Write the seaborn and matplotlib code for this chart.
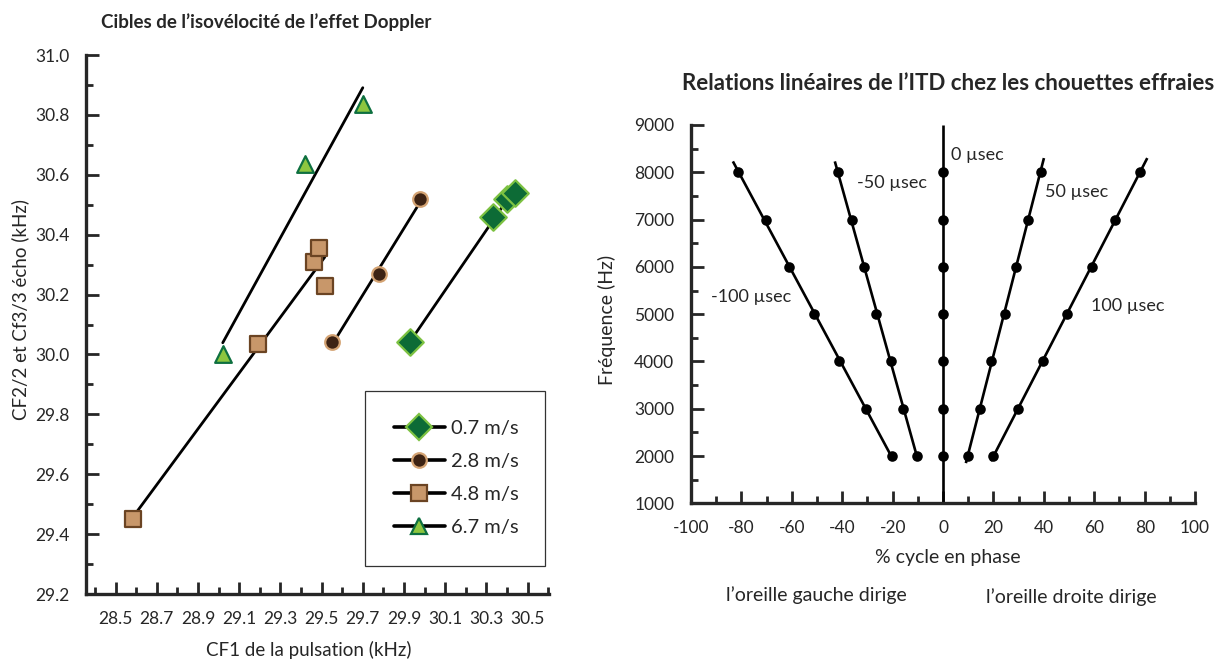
import numpy as np
import matplotlib
matplotlib.use("Agg")
import matplotlib.pyplot as plt
from matplotlib.lines import Line2D
from matplotlib.ticker import MultipleLocator, FormatStrFormatter
import seaborn as sns

# ---- Doppler isovelocity targets: CF1 of the pulse vs CF2/2 & CF3/3 of the echo (kHz)
speed_labels = ["0.7 m/s", "2.8 m/s", "4.8 m/s", "6.7 m/s"]
cf1_07 = [29.93, 30.33, 30.40, 30.44]
echo_07 = [30.04, 30.46, 30.52, 30.54]
cf1_28 = [29.55, 29.78, 29.98]
echo_28 = [30.04, 30.27, 30.52]
cf1_48 = [28.585, 29.19, 29.465, 29.485, 29.515]
echo_48 = [29.45, 30.035, 30.31, 30.355, 30.23]
cf1_67 = [29.02, 29.42, 29.70]
echo_67 = [30.00, 30.635, 30.835]

# ---- Barn owl ITD: % cycle in phase vs frequency (Hz)
frequencies = [2000, 3000, 4000, 5000, 6000, 7000, 8000]
itd_labels = ["-100 µsec", "-50 µsec", "0 µsec", "50 µsec", "100 µsec"]
phase_m100 = [-20.3, -30.5, -41.2, -51.2, -61.0, -70.4, -81.2]
phase_m50 = [-10.2, -15.8, -20.7, -26.6, -31.3, -36.2, -41.8]
phase_0 = [0, 0, 0, 0, 0, 0, 0]
phase_50 = [9.7, 14.7, 19.2, 24.5, 28.8, 33.5, 38.8]
phase_100 = [19.8, 29.8, 39.5, 49.1, 59.1, 68.1, 78.1]
# frequency span over which each fitted line is drawn
span_m100 = [2000, 8230]
span_m50 = [2000, 8230]
span_0 = [1000, 9000]
span_50 = [1850, 8300]
span_100 = [1890, 8300]
# label anchor (phase %, Hz) for each ITD line
label_pos_m100 = (-92, 5360)
label_pos_m50 = (-34, 7770)
label_pos_0 = (3, 8370)
label_pos_50 = (40.5, 7580)
label_pos_100 = (58.5, 5170)

sns.set_style("ticks")
plt.rcParams["font.family"] = ["Lato", "DejaVu Sans"]
plt.rcParams["axes.linewidth"] = 2.4
plt.rcParams["axes.unicode_minus"] = False

fig = plt.figure(figsize=(12.27, 6.62), dpi=100)

# ================= left panel =================
ax1 = fig.add_axes([0.0701, 0.1027, 0.3773, 0.8142])

styles = [
    (cf1_07, echo_07, "D", 13.5, "#0d6b36", "#7dc242"),
    (cf1_28, echo_28, "o", 10.5, "#3d2314", "#d4a373"),
    (cf1_48, echo_48, "s", 11.5, "#c8976a", "#6b4423"),
    (cf1_67, echo_67, "^", 12.0, "#8dc63f", "#0e7040"),
]
handles = []
for (xs, ys, mk, ms, face, edge), lab in zip(styles, speed_labels):
    sns.regplot(x=np.array(xs), y=np.array(ys), ax=ax1, scatter=False,
                ci=None, truncate=True, color="black",
                line_kws={"lw": 2.0, "zorder": 2})
    sns.scatterplot(x=xs, y=ys, ax=ax1, marker=mk, s=ms ** 2, color=face,
                    edgecolor=edge, linewidth=1.6, zorder=3)
    handles.append(Line2D([], [], color="black", lw=2.6, marker=mk,
                          markersize=ms, markerfacecolor=face,
                          markeredgecolor=edge, markeredgewidth=1.6, label=lab))

ax1.set_xlim(28.356, 30.604)
ax1.set_ylim(29.2, 31.0)
ax1.xaxis.set_major_locator(MultipleLocator(0.2, offset=0.1))
ax1.xaxis.set_minor_locator(MultipleLocator(0.1))
ax1.yaxis.set_major_locator(MultipleLocator(0.2))
ax1.yaxis.set_minor_locator(MultipleLocator(0.1))
ax1.xaxis.set_major_formatter(FormatStrFormatter("%.1f"))
ax1.yaxis.set_major_formatter(FormatStrFormatter("%.1f"))
ax1.tick_params(which="major", direction="in", length=9, width=2, labelsize=12.5, pad=12)
ax1.tick_params(which="minor", direction="in", length=5, width=2)
sns.despine(ax=ax1)

leg = ax1.legend(handles=handles, loc="upper left",
                 bbox_to_anchor=(0.6026, 0.0575, 0.3884, 0.3191),
                 mode="expand", fontsize=14.5, frameon=True, fancybox=False,
                 edgecolor="black", handlelength=2.5, handletextpad=0.3,
                 labelspacing=0.79, borderpad=1.45, borderaxespad=0)
leg.get_frame().set_linewidth(0.9)

fig.text(0.2168, 0.9668, "Cibles de l’isovélocité de l’effet Doppler",
         ha="center", va="center", fontsize=13.5, fontweight="bold")
fig.text(0.0163, 0.533, "CF2/2 et Cf3/3 écho (kHz)", rotation=90,
         ha="center", va="center", fontsize=13.5)
fig.text(0.2518, 0.0181, "CF1 de la pulsation (kHz)",
         ha="center", va="center", fontsize=13.5)

# ================= right panel =================
ax2 = fig.add_axes([0.5632, 0.2397, 0.4108, 0.5715])

series = [
    (phase_m100, span_m100, label_pos_m100),
    (phase_m50, span_m50, label_pos_m50),
    (phase_0, span_0, label_pos_0),
    (phase_50, span_50, label_pos_50),
    (phase_100, span_100, label_pos_100),
]
for (phases, span, lpos), lab in zip(series, itd_labels):
    slope, icept = np.polyfit(frequencies, phases, 1)
    f_line = np.array(span, dtype=float)
    ax2.plot(slope * f_line + icept, f_line, color="black", lw=1.9,
             solid_capstyle="butt", zorder=2)
    sns.scatterplot(x=phases, y=frequencies, ax=ax2, marker="o", s=58,
                    color="black", edgecolor="black", linewidth=0, zorder=3)
    ax2.text(lpos[0], lpos[1], lab, ha="left", va="center", fontsize=13)

ax2.set_xlim(-100, 100)
ax2.set_ylim(1000, 9000)
ax2.xaxis.set_major_locator(MultipleLocator(20))
ax2.xaxis.set_minor_locator(MultipleLocator(10))
ax2.yaxis.set_major_locator(MultipleLocator(1000))
ax2.yaxis.set_minor_locator(MultipleLocator(500))
ax2.tick_params(which="major", direction="in", length=9, width=2, labelsize=12.5, pad=12)
ax2.tick_params(which="minor", direction="in", length=5, width=2)
sns.despine(ax=ax2)

fig.text(0.7726, 0.8746, "Relations linéaires de l’ITD chez les chouettes effraies",
         ha="center", va="center", fontsize=16, fontweight="bold")
fig.text(0.4947, 0.5166, "Fréquence (Hz)", rotation=90,
         ha="center", va="center", fontsize=14)
fig.text(0.7726, 0.1571, "% cycle en phase", ha="center", va="center", fontsize=14)
fig.text(0.6650, 0.1012, "l’oreille gauche dirige", ha="center", va="center", fontsize=14)
fig.text(0.8729, 0.0982, "l’oreille droite dirige", ha="center", va="center", fontsize=14)

fig.savefig("out.png", dpi=100)
